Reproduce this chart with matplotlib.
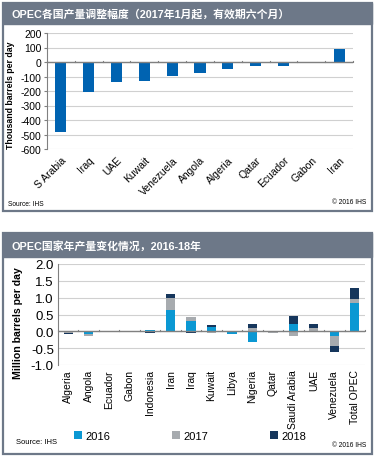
import matplotlib
matplotlib.use("Agg")
import matplotlib.pyplot as plt
from matplotlib.patches import Rectangle
import numpy as np

plt.rcParams['font.family'] = ['Liberation Sans', 'Noto Sans CJK SC', 'DejaVu Sans']

# ---- data: top chart ----
top_title = "OPEC各国产量调整幅度（2017年1月起，有效期六个月）"
top_countries = ["S Arabia", "Iraq", "UAE", "Kuwait", "Venezuela", "Angola",
                 "Algeria", "Qatar", "Ecuador", "Gabon", "Iran"]
top_values = [-486, -210, -139, -131, -95, -78, -50, -30, -26, -9, 90]
top_yticks = [200, 100, 0, -100, -200, -300, -400, -500, -600]
top_ylabel = "Thousand barrels per day"

# ---- data: bottom chart ----
bot_title = "OPEC国家年产量变化情况，2016-18年"
bot_countries = ["Algeria", "Angola", "Ecuador", "Gabon", "Indonesia", "Iran",
                 "Iraq", "Kuwait", "Libya", "Nigeria", "Qatar", "Saudi Arabia",
                 "UAE", "Venezuela", "Total OPEC"]
v2016 = [-0.02, -0.08, -0.01, -0.01, 0.04, 0.64, 0.31, 0.12, -0.07, -0.31, 0.00, 0.23, -0.02, -0.15, 0.83]
v2017 = [-0.03, -0.05, -0.01, -0.01, -0.03, 0.34, 0.11, -0.05, 0.00, 0.10, -0.04, -0.15, 0.10, -0.29, 0.13]
v2018 = [-0.04, 0.00, -0.01, -0.01, -0.02, 0.13, -0.04, 0.07, 0.00, 0.13, 0.00, 0.23, 0.11, -0.16, 0.33]
bot_yticks = [2.0, 1.5, 1.0, 0.5, 0.0, -0.5, -1.0]
bot_ylabel = "Million barrels per day"
series_names = ["2016", "2017", "2018"]

W, H = 380, 460
fig = plt.figure(figsize=(W/100, H/100), dpi=100)

def fx(px): return px / W
def fy(py): return 1 - py / H

HEAD = "#6d7888"
BORDER = "#6d7888"
GRID = "#d0d0d0"
AXC = "#808080"

def panel(y0, y1, yh, title):
    fig.patches.append(Rectangle((fx(3), fy(y1)), fx(369), (y1 - y0)/H,
                                 transform=fig.transFigure, facecolor="white",
                                 edgecolor=BORDER, linewidth=1.6, zorder=-2))
    fig.patches.append(Rectangle((fx(3), fy(yh)), fx(369), (yh - y0)/H,
                                 transform=fig.transFigure, facecolor=HEAD,
                                 edgecolor=HEAD, linewidth=1.0, zorder=-1))
    fig.text(fx(11), fy((y0 + yh)/2), title, color="white", fontsize=7.8,
             fontweight="bold", va="center", ha="left")

panel(4, 212, 25, top_title)
panel(234, 455, 258, bot_title)

# ---- top chart ----
ax1 = fig.add_axes([fx(47), fy(150), fx(306), (150-34)/H])
ax1.set_zorder(2)
ax1.patch.set_alpha(0)
x1 = np.arange(len(top_countries))
ax1.bar(x1, top_values, width=0.4, color="#0063b1", zorder=3)
ax1.set_ylim(-600, 200)
ax1.set_xlim(-0.5, len(top_countries) - 0.5)
ax1.set_yticks(top_yticks)
ax1.set_yticklabels([str(v) for v in top_yticks], fontsize=7.5)
ax1.yaxis.grid(True, color=GRID, linewidth=0.8, zorder=0)
ax1.axhline(0, color=AXC, linewidth=1.0, zorder=4)
for s in ["top", "right", "bottom"]:
    ax1.spines[s].set_visible(False)
ax1.spines["left"].set_color(AXC)
ax1.tick_params(axis="y", length=2, color=AXC, pad=2)
ax1.set_xticks(x1)
ax1.set_xticklabels(top_countries, rotation=45, ha="right", rotation_mode="anchor", fontsize=7.5)
ax1.tick_params(axis="x", length=0, pad=4)
for b in np.arange(len(top_countries) + 1) - 0.5:
    ax1.plot([b, b], [0, 8], color=AXC, linewidth=0.8, zorder=4, clip_on=False)
ax1.set_ylabel(top_ylabel, fontsize=6.3, fontweight="bold")
ax1.yaxis.set_label_coords(-0.105, 0.47)
fig.text(fx(8), fy(205), "Source: IHS", fontsize=4.8, va="center", ha="left")
fig.text(fx(366), fy(202), "© 2016 IHS", fontsize=4.8, va="center", ha="right")

# ---- bottom chart ----
ax2 = fig.add_axes([fx(58), fy(366), fx(307), (366-265)/H])
ax2.set_zorder(2)
ax2.patch.set_alpha(0)
x2 = np.arange(len(bot_countries))
colors = ["#0b98d3", "#a7abaf", "#16365c"]
pos_base = np.zeros(len(bot_countries))
neg_base = np.zeros(len(bot_countries))
for vals, c, name in zip([v2016, v2017, v2018], colors, series_names):
    vals = np.array(vals)
    base = np.where(vals >= 0, pos_base, neg_base)
    ax2.bar(x2, vals, bottom=base, width=0.45, color=c, zorder=3, label=name)
    pos_base = pos_base + np.where(vals >= 0, vals, 0)
    neg_base = neg_base + np.where(vals < 0, vals, 0)
ax2.set_ylim(-1.0, 2.0)
ax2.set_xlim(-0.5, len(bot_countries) - 0.5)
ax2.set_yticks(bot_yticks)
ax2.set_yticklabels([f"{v:.1f}" for v in bot_yticks], fontsize=9.5)
ax2.yaxis.grid(True, color=GRID, linewidth=0.8, zorder=0)
ax2.axhline(0, color=AXC, linewidth=1.0, zorder=4)
for s in ["top", "right", "bottom"]:
    ax2.spines[s].set_visible(False)
ax2.spines["left"].set_color(AXC)
ax2.tick_params(axis="y", length=0, pad=3)
ax2.set_xticks(x2)
ax2.set_xticklabels(bot_countries, rotation=90, fontsize=7.5)
ax2.tick_params(axis="x", length=0, pad=3)
for b in np.arange(len(bot_countries) + 1) - 0.5:
    ax2.plot([b, b], [0, 0.05], color=AXC, linewidth=0.8, zorder=4, clip_on=False)
ax2.set_ylabel(bot_ylabel, fontsize=7.6, fontweight="bold")
ax2.yaxis.set_label_coords(-0.115, 0.43)
leg = fig.legend(loc="center", bbox_to_anchor=(fx(190), fy(437)), ncol=3, frameon=False,
                 fontsize=8, handlelength=0.7, handleheight=0.7, handletextpad=0.3,
                 columnspacing=5.6)
fig.text(fx(16), fy(443), "Source: IHS", fontsize=5.5, va="center", ha="left")
fig.text(fx(366), fy(446), "© 2016 IHS", fontsize=4.8, va="center", ha="right")

fig.savefig("out.png", dpi=100)
